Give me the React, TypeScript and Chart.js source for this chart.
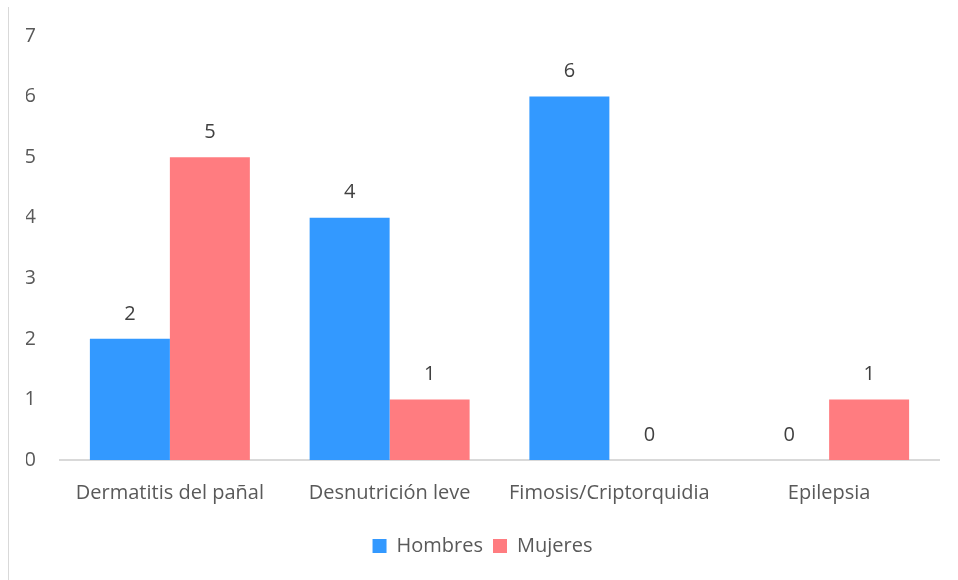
import React, { useEffect, useRef } from "react";
import { Chart, registerables } from "chart.js";

Chart.register(...registerables);

const categories = ["Dermatitis del pañal", "Desnutrición leve", "Fimosis/Criptorquidia", "Epilepsia"];
const hombres = [2, 4, 6, 0];
const mujeres = [5, 1, 0, 1];
const yTicks = [0, 1, 2, 3, 4, 5, 6, 7];

const FONT = "'Open Sans', 'Noto Sans', sans-serif";
const FS = 20;

const valueLabels = {
  id: "valueLabels",
  afterDatasetsDraw(chart: any) {
    const ctx = chart.ctx;
    ctx.save();
    ctx.font = `${FS}px ${FONT}`;
    ctx.fillStyle = "#404040";
    ctx.textAlign = "center";
    ctx.textBaseline = "middle";
    chart.data.datasets.forEach((ds: any, i: number) => {
      const meta = chart.getDatasetMeta(i);
      meta.data.forEach((bar: any, j: number) => {
        ctx.fillText(String(ds.data[j]), bar.x, bar.y - 25);
      });
    });
    ctx.restore();
  },
};

export default function App() {
  const ref = useRef<HTMLCanvasElement>(null);
  useEffect(() => {
    const chart = new Chart(ref.current!, {
      type: "bar",
      data: {
        labels: categories,
        datasets: [
          { label: "Hombres", data: hombres, backgroundColor: "#3399FF", categoryPercentage: 0.728, barPercentage: 1 },
          { label: "Mujeres", data: mujeres, backgroundColor: "#FF7C80", categoryPercentage: 0.728, barPercentage: 1 },
        ],
      },
      options: {
        responsive: false,
        animation: false,
        maintainAspectRatio: false,
        layout: { padding: { left: 26, right: 19, top: 32, bottom: 14 } },
        plugins: {
          tooltip: { enabled: false },
          legend: {
            position: "bottom",
            labels: {
              boxWidth: 14,
              boxHeight: 14,
              padding: 10,
              color: "#595959",
              font: { family: FONT, size: FS },
            },
          },
        },
        scales: {
          x: {
            grid: { display: false, drawTicks: false },
            border: { display: true, color: "#D9D9D9", width: 2 },
            ticks: { color: "#595959", font: { family: FONT, size: FS }, padding: 21, maxRotation: 0 },
          },
          y: {
            min: 0,
            max: 7,
            afterBuildTicks: (axis: any) => {
              axis.ticks = yTicks.map((v) => ({ value: v }));
            },
            afterFit: (axis: any) => {
              axis.width = 34;
            },
            grid: { display: false, drawTicks: false },
            border: { display: false },
            ticks: { color: "#595959", font: { family: FONT, size: FS }, padding: 24 },
          },
        },
      },
      plugins: [valueLabels],
    });
    return () => chart.destroy();
  }, []);
  return (
    <div style={{ position: "fixed", left: 0, top: 0, width: 958, height: 580, background: "#fff" }}>
      <div style={{ position: "absolute", left: 8, top: 7, width: 1, height: 573, background: "#D9D9D9" }} />
      <canvas ref={ref} width={958} height={580} style={{ position: "absolute", left: 0, top: 0 }} />
    </div>
  );
}
